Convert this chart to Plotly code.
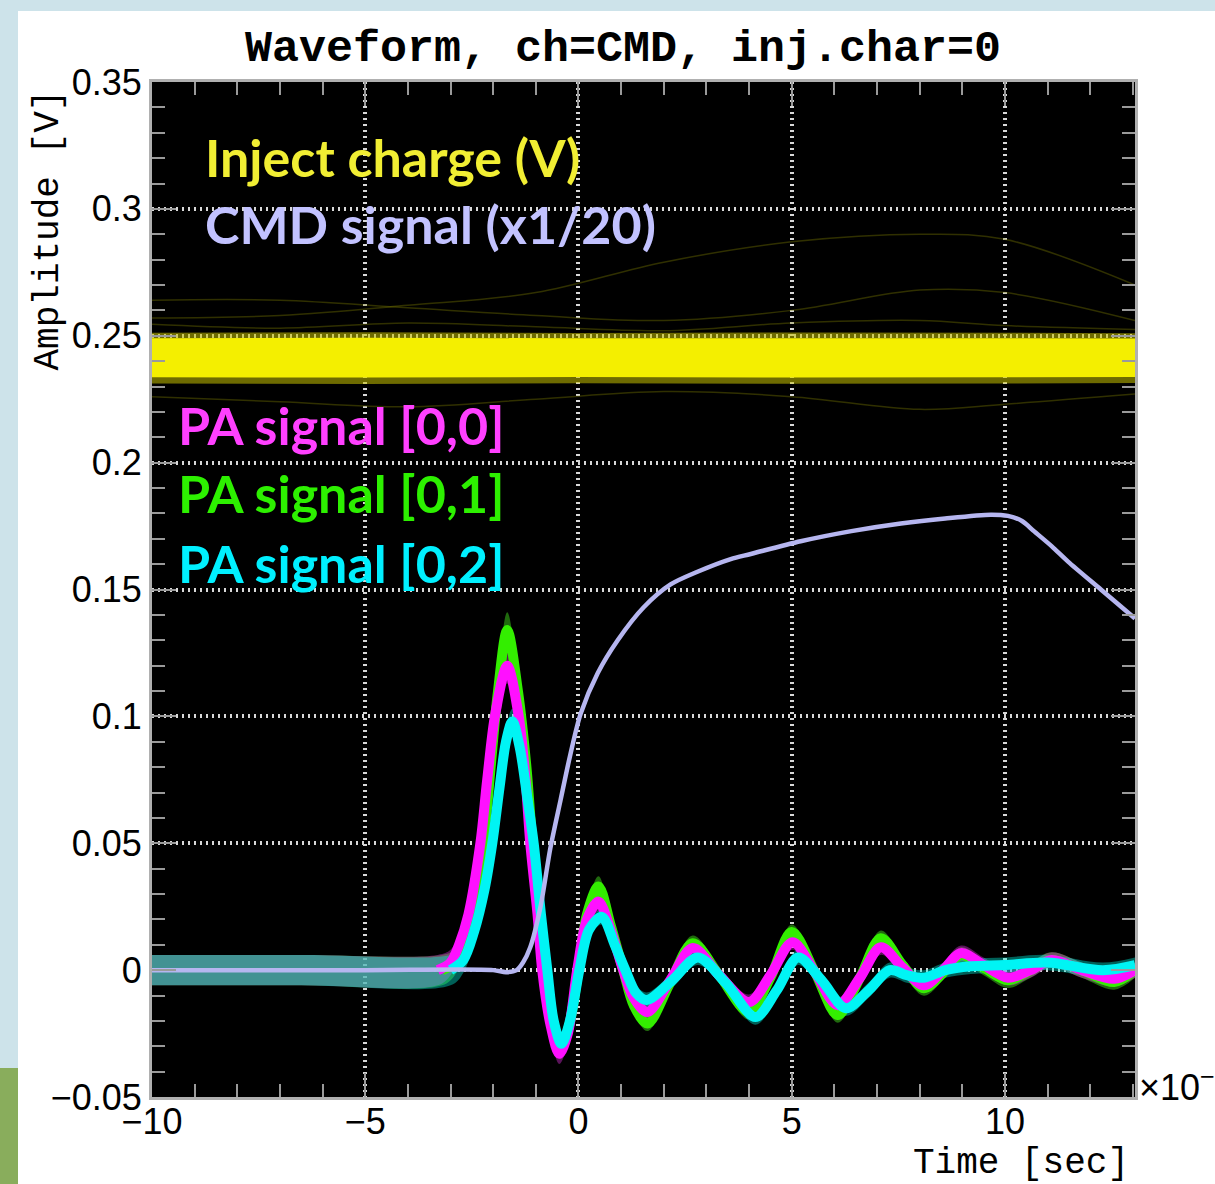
import plotly.graph_objects as go

# ---------------- data (time in units of 1e-9 s) ----------------
# Inject charge band (yellow)
inj_t = [-10, -5, 0, 5, 10, 13.05]
inj_core_hi = [0.2490, 0.2492, 0.2490, 0.2491, 0.2490, 0.2489]
inj_core_lo = [0.2336, 0.2335, 0.2337, 0.2335, 0.2336, 0.2337]
inj_halo_hi = [0.2512, 0.2514, 0.2511, 0.2513, 0.2512, 0.2510]
inj_halo_lo = [0.2312, 0.2310, 0.2313, 0.2311, 0.2312, 0.2314]

# faint stray inject-charge traces
stray_t = [-10, -7, -4, -1, 2, 5, 8, 10, 13.05]
stray_a = [0.264, 0.264, 0.261, 0.258, 0.256, 0.260, 0.268, 0.267, 0.256]
stray_b = [0.257, 0.258, 0.262, 0.267, 0.279, 0.287, 0.290, 0.288, 0.270]
stray_c = [0.226, 0.224, 0.222, 0.225, 0.228, 0.226, 0.221, 0.223, 0.227]
stray_d = [0.2545, 0.2530, 0.2550, 0.2535, 0.2520, 0.2550, 0.2560, 0.2540, 0.2525]

# CMD signal (x1/20)
cmd_t = [-10, -5, -2.0, -1.7, -1.45, -1.3, -1.13, -0.89, -0.66, -0.42, -0.19, 0.05,
         0.45, 0.92, 1.53, 2.16, 2.79, 3.57, 4.04, 5.21, 6.4, 7.56, 8.6, 9.67, 10.07,
         10.4, 10.68, 11.1, 11.48, 12.25, 13.05]
cmd_v = [0.0, 0.0, 0.0, -0.0008, 0.0, 0.003, 0.009, 0.025, 0.048, 0.067, 0.085, 0.101,
         0.117, 0.130, 0.143, 0.152, 0.157, 0.162, 0.164, 0.169, 0.173, 0.176, 0.178, 0.1795, 0.179,
         0.177, 0.173, 0.167, 0.161, 0.150, 0.1386]

# PA signal [0,0] (magenta)
pa00_t = [-10, -6.5, -3.3, -3.0, -2.8, -2.58, -2.3, -2.14, -1.95, -1.67, -1.41, -1.24, -1.13,
          -0.96, -0.85, -0.65, -0.45, -0.25, -0.03, 0.2, 0.47, 0.75, 1.05, 1.3, 1.62, 2.15,
          2.68, 3.3, 4.0, 4.5, 5.02, 5.55, 6.08, 6.6, 7.09, 7.6, 8.1, 8.55, 8.97, 9.5, 10.07,
          10.6, 11.1, 11.8, 12.56, 13.05]
pa00_v = [0.0, 0.0, 0.0, 0.003, 0.010, 0.022, 0.050, 0.075, 0.101, 0.120, 0.101, 0.075, 0.050,
          0.022, 0.0, -0.022, -0.033, -0.025, 0.0, 0.020, 0.027, 0.016, 0.0, -0.011, -0.0165, -0.004,
          0.0087, -0.002, -0.0126, -0.002, 0.011, -0.001, -0.0138, -0.003, 0.009, 0.001, -0.006,
          0.0, 0.0067, 0.002, -0.003, 0.0, 0.004, 0.0, -0.0034, 0.0]
pa00_spread = [0.006, 0.006, 0.006, 0.005, 0.004, 0.004, 0.004, 0.005, 0.006, 0.007, 0.006, 0.005,
               0.005, 0.004, 0.004, 0.004, 0.004, 0.004, 0.003, 0.003, 0.004, 0.003, 0.003, 0.003,
               0.003, 0.003, 0.003, 0.003, 0.003, 0.003, 0.003, 0.003, 0.003, 0.003, 0.003, 0.003,
               0.003, 0.003, 0.003, 0.003, 0.003, 0.003, 0.003, 0.003, 0.003, 0.003]

# PA signal [0,1] (green)
pa01_t = [-10, -6.5, -3.2, -2.9, -2.7, -2.5, -2.23, -2.07, -1.9, -1.67, -1.42, -1.22, -1.08,
          -0.9, -0.77, -0.6, -0.42, -0.22, 0.0, 0.2, 0.47, 0.75, 1.05, 1.3, 1.62, 2.15, 2.68,
          3.3, 4.0, 4.5, 5.0, 5.55, 6.08, 6.6, 7.09, 7.6, 8.1, 8.55, 8.97, 9.5, 10.07, 10.6,
          11.08, 11.8, 12.56, 13.05]
pa01_v = [0.0, 0.0, 0.0, 0.003, 0.010, 0.022, 0.050, 0.078, 0.108, 0.134, 0.110, 0.080, 0.050,
          0.020, 0.0, -0.020, -0.031, -0.022, 0.0, 0.022, 0.033, 0.018, 0.0, -0.014, -0.021, -0.005,
          0.0106, -0.002, -0.0165, -0.003, 0.015, -0.001, -0.0177, -0.003, 0.0126, 0.002, -0.0071,
          -0.001, 0.006, 0.001, -0.004, 0.0, 0.004, 0.0, -0.0047, 0.0]
pa01_spread = [0.006, 0.006, 0.006, 0.005, 0.004, 0.004, 0.004, 0.005, 0.006, 0.007, 0.006, 0.005,
               0.005, 0.004, 0.004, 0.004, 0.004, 0.004, 0.003, 0.003, 0.004, 0.003, 0.003, 0.003,
               0.003, 0.003, 0.003, 0.003, 0.003, 0.003, 0.003, 0.003, 0.003, 0.003, 0.003, 0.003,
               0.003, 0.003, 0.003, 0.003, 0.003, 0.003, 0.003, 0.003, 0.003, 0.003]

# PA signal [0,2] (cyan)
pa02_t = [-10, -6.5, -3.0, -2.7, -2.45, -2.2, -2.02, -1.85, -1.7, -1.55, -1.38, -1.2, -1.05,
          -0.88, -0.73, -0.58, -0.4, -0.2, 0.02, 0.25, 0.55, 0.85, 1.1, 1.35, 1.6, 2.2, 2.8,
          3.45, 4.15, 4.65, 5.15, 5.7, 6.27, 6.8, 7.3, 7.7, 8.1, 8.6, 9.2, 10.0, 11.0, 12.3, 13.05]
pa02_v = [0.0, 0.0, 0.0, 0.004, 0.015, 0.032, 0.050, 0.072, 0.090, 0.098, 0.088, 0.068, 0.050,
          0.022, 0.0, -0.020, -0.029, -0.020, 0.0, 0.016, 0.021, 0.010, 0.0, -0.009, -0.0118, -0.004,
          0.005, -0.005, -0.0185, -0.008, 0.005, -0.004, -0.015, -0.008, 0.0, -0.002, -0.003,
          0.0, 0.0015, 0.002, 0.003, 0.0, 0.002]
pa02_spread = [0.006, 0.006, 0.006, 0.005, 0.004, 0.004, 0.004, 0.004, 0.005, 0.005, 0.005, 0.004,
               0.004, 0.004, 0.003, 0.003, 0.003, 0.003, 0.003, 0.003, 0.003, 0.003, 0.003, 0.003,
               0.003, 0.003, 0.003, 0.003, 0.003, 0.003, 0.003, 0.003, 0.003, 0.003, 0.003, 0.003,
               0.003, 0.003, 0.003, 0.003, 0.003, 0.003, 0.003]

x_tickvals = [-10, -5, 0, 5, 10]
x_ticktext = ["\u221210", "\u22125", "0", "5", "10"]
y_tickvals = [-0.05, 0.0, 0.05, 0.1, 0.15, 0.2, 0.25, 0.3, 0.35]
y_ticktext = ["\u22120.05", "0", "0.05", "0.1", "0.15", "0.2", "0.25", "0.3", "0.35"]

# ---------------- geometry helpers ----------------
FW, FH = 1215, 1184
L, R, T, B = 152, 1135, 82, 1097


def px(xp):
    return (xp - L) / (R - L)


def py(yp):
    return (B - yp) / (B - T)


fig = go.Figure()

# stray faint traces
for s in (stray_a, stray_b, stray_c, stray_d):
    fig.add_trace(go.Scatter(x=stray_t, y=s, mode="lines", line=dict(color="rgba(120,120,0,0.4)", width=1.5, shape="spline")))

# yellow band
fig.add_trace(go.Scatter(x=inj_t, y=inj_halo_lo, mode="lines", line=dict(width=0, color="rgba(0,0,0,0)")))
fig.add_trace(go.Scatter(x=inj_t, y=inj_halo_hi, mode="lines", line=dict(width=0, color="rgba(0,0,0,0)"),
                         fill="tonexty", fillcolor="rgba(200,195,0,0.55)"))
fig.add_trace(go.Scatter(x=inj_t, y=inj_core_lo, mode="lines", line=dict(width=0, color="rgba(0,0,0,0)")))
fig.add_trace(go.Scatter(x=inj_t, y=inj_core_hi, mode="lines", line=dict(width=0, color="rgba(0,0,0,0)"),
                         fill="tonexty", fillcolor="#f4ef00"))

pa = [
    (pa01_t, pa01_v, pa01_spread, "rgba(70,235,30,0.45)", "#33ee00"),
    (pa00_t, pa00_v, pa00_spread, "rgba(240,50,240,0.38)", "#ff10ff"),
    (pa02_t, pa02_v, pa02_spread, "rgba(0,240,220,0.40)", "#00f4f4"),
]
# bands
for t, v, s, band_col, _ in pa:
    lo = [a - b for a, b in zip(v, s)]
    hi = [a + b for a, b in zip(v, s)]
    fig.add_trace(go.Scatter(x=t, y=lo, mode="lines", line=dict(width=0, shape="spline", color="rgba(0,0,0,0)")))
    fig.add_trace(go.Scatter(x=t, y=hi, mode="lines", line=dict(width=0, shape="spline", color="rgba(0,0,0,0)"),
                             fill="tonexty", fillcolor=band_col))
# center lines after the trigger onset
for t, v, s, _, line_col in pa:
    tt = [a for a in t if a >= -3.5]
    vv = [b for a, b in zip(t, v) if a >= -3.5]
    fig.add_trace(go.Scatter(x=tt, y=vv, mode="lines", line=dict(width=10, shape="spline", smoothing=0.9, color=line_col)))

# CMD signal
fig.add_trace(go.Scatter(x=cmd_t, y=cmd_v, mode="lines", line=dict(width=4.5, shape="spline", smoothing=0.8, color="#b6b6f0")))

tick_font = dict(family="Liberation Sans, Arial, sans-serif", size=36, color="black")
grid_kw = dict(showgrid=True, gridcolor="#d8d8d8", gridwidth=4, griddash="2px,4px")
axis_kw = dict(ticks="inside", ticklen=24, tickwidth=2, tickcolor="#9a9a9a", showline=True,
               linecolor="#b0b0b0", linewidth=3, mirror="allticks", zeroline=False, tickfont=tick_font,
               tickmode="array", **grid_kw)

fig.update_layout(
    width=FW, height=FH,
    margin=dict(l=L, r=FW - R, t=T, b=FH - B),
    paper_bgcolor="white", plot_bgcolor="black",
    showlegend=False, hovermode=False,
    xaxis=dict(range=[-10, 13.05], tickvals=x_tickvals, ticktext=x_ticktext, ticklabelstandoff=-9,
               minor=dict(dtick=1, tick0=0, ticks="inside", ticklen=13, tickwidth=2, tickcolor="#9a9a9a", showgrid=False),
               **axis_kw),
    yaxis=dict(range=[-0.05, 0.35], tickvals=y_tickvals, ticktext=y_ticktext,
               minor=dict(dtick=0.01, tick0=0, ticks="inside", ticklen=13, tickwidth=2, tickcolor="#9a9a9a", showgrid=False),
               **axis_kw),
)

shapes = [
    dict(type="rect", xref="paper", yref="paper", x0=px(0), x1=px(18), y0=py(FH), y1=py(0),
         fillcolor="#cde3ea", line=dict(width=0)),
    dict(type="rect", xref="paper", yref="paper", x0=px(0), x1=px(18), y0=py(FH), y1=py(1068),
         fillcolor="#89ad5c", line=dict(width=0)),
    dict(type="rect", xref="paper", yref="paper", x0=px(0), x1=px(FW), y0=py(11), y1=py(0),
         fillcolor="#cde3ea", line=dict(width=0)),
]
fig.update_layout(shapes=shapes)

label_font = "Lato, 'Open Sans', sans-serif"
mono = "'Liberation Mono', 'Courier New', monospace"
ann = [
    dict(text="Waveform, ch=CMD, inj.char=0", x=px(623), y=py(49), xanchor="center", yanchor="middle",
         font=dict(family=mono, size=45, color="black", weight="bold")),
    dict(text="Time [sec]", x=px(1131), y=py(1163), xanchor="right", yanchor="middle",
         font=dict(family=mono, size=36, color="black")),
    dict(text="Amplitude [V]", x=px(48), y=py(88), xanchor="center", yanchor="top", textangle=-90,
         font=dict(family=mono, size=36, color="black")),
    dict(text="\u00d710<sup>\u22129</sup>", x=px(1137), y=py(1085), xanchor="left", yanchor="middle",
         font=dict(family="Liberation Sans, Arial, sans-serif", size=36, color="black")),
    dict(text="Inject charge (V)", x=px(203), y=py(157), xanchor="left", yanchor="middle",
         font=dict(family=label_font, size=52, color="#f1ee33", weight="bold")),
    dict(text="CMD signal (x1/20)", x=px(203), y=py(224), xanchor="left", yanchor="middle",
         font=dict(family=label_font, size=52, color="#c2c2ff", weight="bold")),
    dict(text="PA signal [0,0]", x=px(176), y=py(425), xanchor="left", yanchor="middle",
         font=dict(family=label_font, size=52, color="#ff40ff", weight="bold")),
    dict(text="PA signal [0,1]", x=px(176), y=py(493), xanchor="left", yanchor="middle",
         font=dict(family=label_font, size=52, color="#2df000", weight="bold")),
    dict(text="PA signal [0,2]", x=px(176), y=py(563), xanchor="left", yanchor="middle",
         font=dict(family=label_font, size=52, color="#00f0ff", weight="bold")),
]
for a in ann:
    a.update(xref="paper", yref="paper", showarrow=False)
fig.update_layout(annotations=ann)

fig.write_html("out.html")
